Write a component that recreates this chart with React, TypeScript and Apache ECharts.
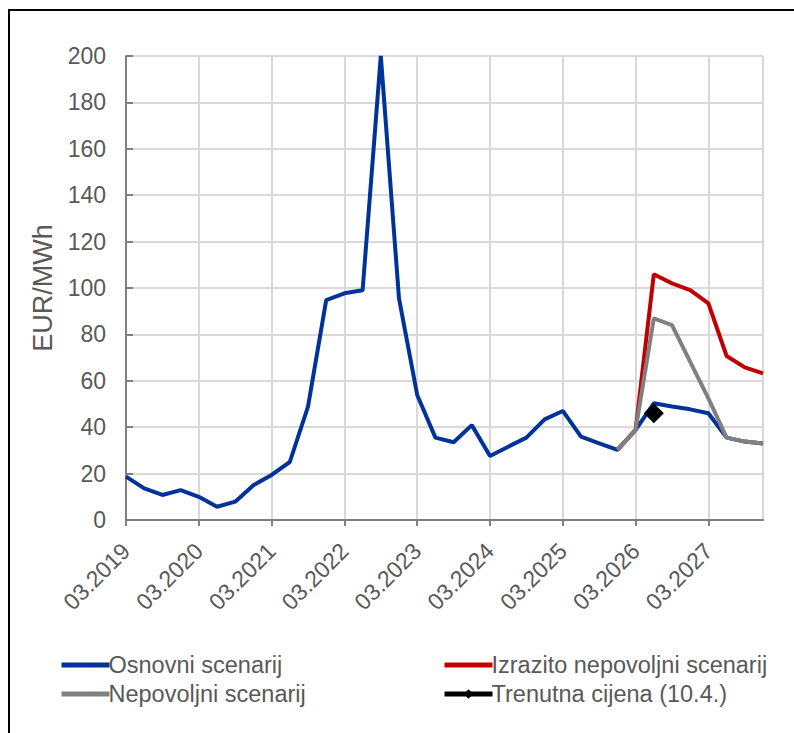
import React, { useEffect, useRef } from "react";
import * as echarts from "echarts";

const years = [2019, 2020, 2021, 2022, 2023, 2024, 2025, 2026, 2027];
const months = ["03", "06", "09", "12"];
const categories: string[] = [];
years.forEach((y) => months.forEach((m) => categories.push(`${m}.${y}`)));

const osnovni = [
  18.7, 13.6, 10.8, 12.9, 10.0, 5.7, 7.9, 15.0, 19.4, 25.0, 48.9, 94.8, 97.7, 99.0, 200, 95.5,
  53.9, 35.5, 33.5, 40.9, 27.6, 31.6, 35.5, 43.4, 47.0, 35.9, 33.0, 30.2, 38.8, 50.3, 48.9, 47.7,
  46.0, 35.5, 33.8, 33.0,
];
const izrazito = [
  null, null, null, null, null, null, null, null, null, null, null, null, null, null, null, null,
  null, null, null, null, null, null, null, null, null, null, null, 30.2, 38.8, 105.9, 102.0, 99.1,
  93.4, 70.7, 65.8, 63.2,
];
const nepovoljni = [
  null, null, null, null, null, null, null, null, null, null, null, null, null, null, null, null,
  null, null, null, null, null, null, null, null, null, null, null, 30.2, 38.8, 86.9, 84.0, 68.2,
  52.4, 35.5, 33.8, 33.0,
];
const trenutna = categories.map((c) => (c === "06.2026" ? 46 : null));

const yTicks = { min: 0, max: 200, interval: 20 };
const names = {
  osnovni: "Osnovni scenarij",
  izrazito: "Izrazito nepovoljni scenarij",
  nepovoljni: "Nepovoljni scenarij",
  trenutna: "Trenutna cijena (10.4.)",
};

export default function App() {
  const ref = useRef<HTMLDivElement>(null);
  useEffect(() => {
    const chart = echarts.init(ref.current!, null, { renderer: "svg" });
    const font = "Liberation Sans, Arial, sans-serif";
    const textColor = "#595959";
    const noSym = { itemStyle: { opacity: 0 } };
    const legendCommon = {
      orient: "vertical",
      top: 648,
      itemWidth: 48,
      itemHeight: 12,
      itemGap: 5,
      lineStyle: { width: 5 },
      textStyle: { fontSize: 23.5, color: textColor, fontFamily: font, padding: [0, 0, 0, -6] },
    };
    chart.setOption({
      animation: false,
      textStyle: { fontFamily: font },
      graphic: [
        {
          type: "rect",
          shape: { x: 9, y: 10, width: 820, height: 760 },
          style: { fill: "none", stroke: "#000", lineWidth: 2 },
          silent: true,
        },
      ],
      grid: { left: 126, right: 31, top: 56, bottom: 213, containLabel: false },
      xAxis: {
        type: "category",
        data: categories,
        boundaryGap: false,
        axisLine: { lineStyle: { color: "#7f7f7f", width: 2 } },
        axisTick: { interval: 3, length: 6, lineStyle: { color: "#7f7f7f", width: 2 } },
        axisLabel: {
          interval: 3,
          rotate: 45,
          margin: 27,
          fontSize: 23,
          color: textColor,
          fontFamily: font,
        },
        splitLine: {
          show: true,
          interval: (i: number) => i % 4 === 0 || i === categories.length - 1,
          lineStyle: { color: "#d9d9d9", width: 2 },
        },
      },
      yAxis: {
        type: "value",
        min: yTicks.min,
        max: yTicks.max,
        interval: yTicks.interval,
        name: "EUR/MWh",
        nameLocation: "middle",
        nameGap: 70,
        nameRotate: 90,
        nameTextStyle: { fontSize: 27, color: textColor, fontFamily: font },
        axisLine: { show: true, lineStyle: { color: "#7f7f7f", width: 2 } },
        axisTick: { show: true, inside: true, length: 7, lineStyle: { color: "#7f7f7f", width: 2 } },
        axisLabel: { fontSize: 23, color: textColor, margin: 20, fontFamily: font },
        splitLine: { lineStyle: { color: "#d9d9d9", width: 2 } },
      },
      legend: [
        {
          ...legendCommon,
          left: 54,
          data: [
            { name: names.osnovni, ...noSym },
            { name: names.nepovoljni, ...noSym },
          ],
        },
        {
          ...legendCommon,
          left: 437,
          data: [{ name: names.izrazito, ...noSym }, { name: names.trenutna }],
        },
      ],
      series: [
        {
          name: names.osnovni,
          type: "line",
          data: osnovni,
          symbol: "none",
          lineStyle: { color: "#003399", width: 4 },
          itemStyle: { color: "#003399" },
          z: 2,
        },
        {
          name: names.izrazito,
          type: "line",
          data: izrazito,
          symbol: "none",
          lineStyle: { color: "#c00000", width: 4 },
          itemStyle: { color: "#c00000" },
          z: 3,
        },
        {
          name: names.nepovoljni,
          type: "line",
          data: nepovoljni,
          symbol: "none",
          lineStyle: { color: "#808080", width: 4 },
          itemStyle: { color: "#808080" },
          z: 4,
        },
        {
          name: names.trenutna,
          type: "line",
          data: trenutna,
          symbol: "diamond",
          symbolSize: 20,
          showSymbol: true,
          showAllSymbol: true,
          lineStyle: { color: "#000", width: 4 },
          itemStyle: { color: "#000" },
          z: 5,
        },
      ],
    });
    return () => chart.dispose();
  }, []);
  return <div ref={ref} style={{ width: 794, height: 733, position: "absolute", left: 0, top: 0 }} />;
}
